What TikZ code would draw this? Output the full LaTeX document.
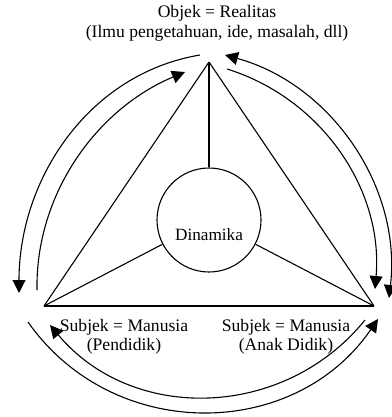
\documentclass[tikz,border=0pt]{standalone}
\usepackage{fontspec}
\setmainfont{Liberation Serif}
\usetikzlibrary{arrows.meta}
\begin{document}
\begin{tikzpicture}[x=1pt,y=1pt, line width=1.1pt,
  tipend/.style={-{Triangle[length=13pt,width=13pt]}},
  tipboth/.style={{Triangle[length=13pt,width=13pt]}-{Triangle[length=13pt,width=13pt]}},
  lbl/.style={align=center, font=\fontsize{17.6}{19.5}\selectfont, inner sep=0pt},
  dyn/.style={circle, draw, minimum size=104pt, inner sep=0pt,
    font=\fontsize{17.2}{19}\selectfont, text height=40pt, text depth=0pt}]
\useasboundingbox (0,0) rectangle (391,-417);
% triangle vertices and centre circle
\coordinate (T) at (209,-62);
\coordinate (L) at (44,-306);
\coordinate (R) at (374,-306);
\node[dyn] (D) at (209,-220) {Dinamika};
\draw (T) -- (L);
\draw (T) -- (R);
\draw (L) -- (R);
\draw (T) -- (D);
\draw (L) -- (D);
\draw (R) -- (D);
% labels (base anchor = baseline of last line)
\node[lbl, anchor=base] (obj) at (217,-37.5) {Objek = Realitas\\(Ilmu pengetahuan, ide, masalah, dll)};
\node[lbl, anchor=base] (s1) at (124,-350.5) {Subjek = Manusia\\(Pendidik)};
\node[lbl, anchor=base] (s2) at (286,-350.5) {Subjek = Manusia\\(Anak Didik)};
% arc end points
\coordinate (tlo1) at (200,-55);  \coordinate (tlo2) at (19,-293);
\coordinate (tli1) at (37,-290);  \coordinate (tli2) at (185,-72);
\coordinate (tro1) at (225,-55);  \coordinate (tro2) at (389,-298);
\coordinate (tri1) at (227,-69);  \coordinate (tri2) at (375,-289);
\coordinate (bo1) at (28,-322);   \coordinate (bo2) at (378,-319);
\coordinate (bi1) at (365,-320);  \coordinate (bi2) at (50,-325);
% arcs
\draw[tipend] (tlo1) to[out=189.5, in=90, looseness=0.97] (tlo2);
\draw[tipend] (tli1) to[out=91, in=202.7, looseness=0.93] (tli2);
\draw[tipboth] (tro1) to[out=-15.5, in=83.4, looseness=0.97] (tro2);
\draw[tipend] (tri1) to[out=-17.3, in=85.1, looseness=0.96] (tri2);
\draw[tipend] (bo1) to[out=-54.9, in=235.6, looseness=1.08] (bo2);
\draw[tipend] (bi1) to[out=231, in=309.9, looseness=1.04] (bi2);
\end{tikzpicture}
\end{document}
